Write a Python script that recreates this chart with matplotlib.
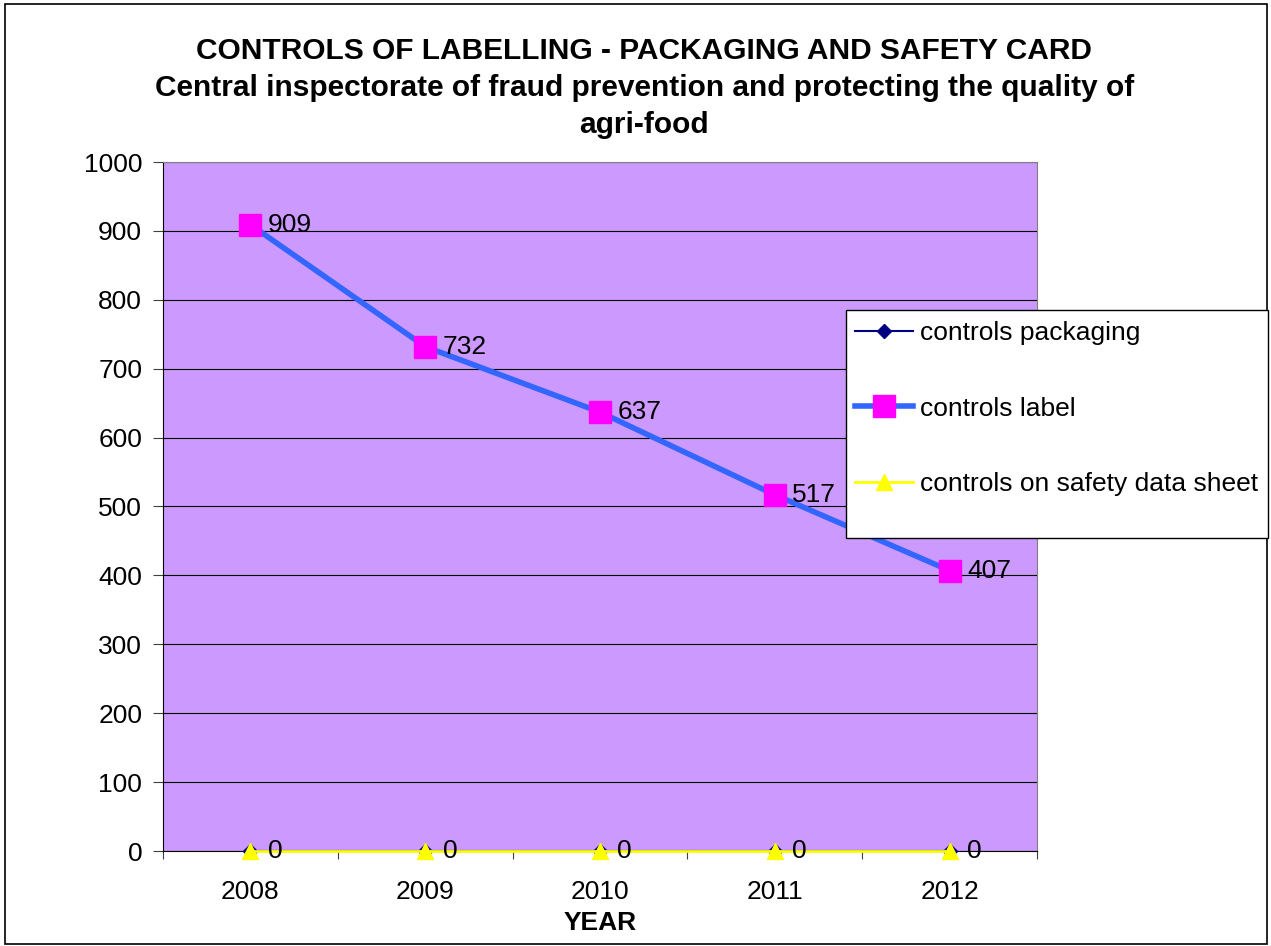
import matplotlib
matplotlib.use("Agg")
import matplotlib.pyplot as plt
from matplotlib.patches import Rectangle

years = ["2008", "2009", "2010", "2011", "2012"]
packaging = [0, 0, 0, 0, 0]
label = [909, 732, 637, 517, 407]
safety = [0, 0, 0, 0, 0]

title_lines = ["CONTROLS OF LABELLING - PACKAGING AND SAFETY CARD",
               "Central inspectorate of fraud prevention and protecting the quality of",
               "agri-food"]

plt.rcParams["font.family"] = ["Liberation Sans", "DejaVu Sans"]

W, H = 1271, 946
fig = plt.figure(figsize=(W / 100, H / 100), dpi=100)
ax = fig.add_axes([163 / W, 1 - 851 / H, (1037 - 163) / W, (851 - 162) / H])
ax.set_facecolor("#CC99FF")

x = list(range(len(years)))
ax.plot(x, packaging, color="#000080", lw=1.5, marker="D", ms=7,
        label="controls packaging", zorder=3, clip_on=False)
ax.plot(x, label, color="#3366FF", lw=4, marker="s", ms=16,
        mfc="#FF00FF", mec="#FF00FF", label="controls label", zorder=4)
ax.plot(x, safety, color="#FFFF00", lw=2, marker="^", ms=11,
        mfc="#FFFF00", mec="#FFFF00", label="controls on safety data sheet",
        zorder=4, clip_on=False)

for xi, v in zip(x, label):
    ax.text(xi + 0.1, v, str(v), fontsize=19, va="center", ha="left", zorder=5)
for xi, v in zip(x, safety):
    ax.text(xi + 0.1, v, str(v), fontsize=19, va="center", ha="left", zorder=5)

ax.set_xlim(-0.5, 4.5)
ax.set_ylim(0, 1000)
ax.set_yticks(range(0, 1001, 100))
ax.set_xticks([i + 0.5 for i in range(-1, 5)], minor=False)
ax.set_xticklabels([])
ax.set_xticks(x, minor=True)
ax.set_xticklabels(years, minor=True)
ax.tick_params(axis="x", which="major", length=6, direction="out", color="#404040")
ax.tick_params(axis="x", which="minor", length=0, pad=21, labelsize=19)
ax.tick_params(axis="y", length=7, direction="out", labelsize=19, color="#404040", pad=8)
ax.yaxis.grid(True, color="black", lw=0.8)
ax.set_axisbelow(True)
for s in ["top", "right"]:
    ax.spines[s].set_color("#808080")
for s in ["left", "bottom"]:
    ax.spines[s].set_color("black")

ax.set_xlabel("YEAR", fontsize=19, fontweight="bold", labelpad=5)

for yy, line in zip([51, 88, 125], title_lines):
    fig.text(0.507, 1 - yy / H, line, ha="center", va="center",
             fontsize=21.5, fontweight="bold")

# legend box (Excel style: extra room below the last entry)
fig.patches.append(Rectangle((846 / W, 1 - 538 / H), (1268 - 846) / W, (538 - 310) / H,
                             transform=fig.transFigure, facecolor="white",
                             edgecolor="black", lw=1.0, zorder=5))
leg = fig.legend(loc="upper left", bbox_to_anchor=(846 / W, 1 - 312 / H),
                 frameon=False, fontsize=19, labelspacing=1.95, handlelength=2.2,
                 borderpad=0.35, handletextpad=0.25, borderaxespad=0)
leg.set_zorder(6)

fig.patches.append(Rectangle((5 / W, 2 / H), 1262 / W, 940 / H,
                             transform=fig.transFigure, fill=False,
                             edgecolor="black", lw=1.2))

fig.savefig("out.png", dpi=100)
